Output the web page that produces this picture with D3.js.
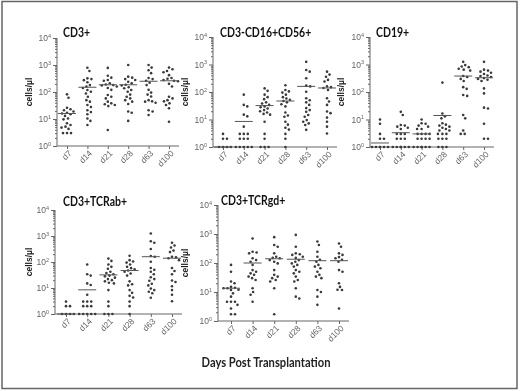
<!DOCTYPE html>
<html>
<head>
<meta charset="utf-8">
<script src="https://cdn.jsdelivr.net/npm/d3@7"></script>
<style>
body { margin: 0; background: #fff; }
svg { filter: grayscale(1); }
</style>
</head>
<body>
<script>
// Categories and axis ticks
var days = ['d7', 'd14', 'd21', 'd28', 'd63', 'd100'];
var decades = [1, 10, 100, 1000, 10000];

// CD3+ (cells/µl per patient, one list per day)
var cd3Values = [
  [82, 61, 26, 23, 21, 19, 17, 16, 15, 13, 10.5, 9.7, 7, 6, 5.2, 4.8, 4.3, 3, 3, 3],
  [795, 600, 320, 300, 275, 230, 180, 160, 140, 118, 102, 88, 67, 50, 44, 33, 28, 21, 18, 15, 10.5, 8.5, 6],
  [780, 400, 340, 280, 260, 210, 190, 180, 175, 160, 140, 120, 77, 67, 58, 44, 38, 35, 33, 30, 3.9],
  [1000, 370, 340, 300, 277, 240, 210, 185, 175, 150, 138, 118, 102, 80, 67, 58, 50, 44, 36, 19, 17, 8.5],
  [1000, 800, 640, 500, 330, 300, 260, 220, 180, 120, 95, 80, 68, 50, 45, 44, 40, 21, 19, 14],
  [800, 700, 600, 540, 420, 330, 310, 280, 260, 250, 200, 160, 67, 58, 50, 45, 38, 33, 25, 7.9]
];
var cd3Means = [16, 150, 185, 185, 250, 260];

// CD3-CD16+CD56+
var nkValues = [
  [3, 2, 2, 1, 1, 1, 1],
  [80, 34, 30, 15, 13, 5.5, 3, 3, 3, 2, 2, 2, 1, 1, 1, 1, 1],
  [135, 110, 80, 65, 55, 42, 38, 34, 30, 28, 25, 22, 20, 18, 16, 15, 8.3, 3, 2, 1, 1, 1],
  [175, 118, 105, 95, 80, 65, 58, 52, 47, 42, 36, 30, 18, 14, 12.6, 8.3, 6.5, 5, 4.3, 3, 2, 1],
  [1250, 630, 550, 316, 170, 160, 102, 59, 50, 42, 34, 26, 22, 19, 14.5, 12.6, 9.5, 8.3, 7.2, 6.3, 4.2],
  [550, 430, 360, 275, 240, 160, 150, 140, 118, 59, 45, 34, 19.5, 17, 11.7, 8.3, 5.5, 3.1]
];
var nkMeans = [1, 8.5, 32, 47, 160, 140];

// CD19+
var cd19Values = [
  [10, 7, 3, 2, 2, 1, 1, 1, 1, 1, 1],
  [19, 14.5, 6.3, 6, 5.5, 5, 4.5, 3, 3, 3, 2, 2, 2, 1, 1, 1, 1, 1, 1],
  [10, 7.3, 7, 6, 5.5, 4.5, 4.5, 3, 3, 3, 3, 2, 2, 2, 2, 1, 1, 1, 1, 1, 1],
  [220, 16.5, 13, 11, 7.3, 6.5, 6, 5.5, 5, 4.5, 4, 4, 3, 3, 3, 2, 2, 2, 1, 1, 1],
  [1250, 950, 850, 800, 700, 650, 600, 380, 350, 300, 250, 150, 130, 78, 72, 14.5, 11, 4, 3, 3],
  [1250, 650, 600, 550, 500, 450, 400, 380, 350, 320, 300, 280, 250, 135, 89, 27, 25, 7, 2, 2]
];
var cd19Means = [1.4, 3.3, 3, 14, 380, 330];

// CD3+TCRab+ (the published panel shows the same points as CD3-CD16+CD56+)
var abValues = [
  [3, 2, 2, 1, 1, 1, 1],
  [80, 34, 30, 15, 13, 5.5, 3, 3, 3, 2, 2, 2, 1, 1, 1, 1, 1],
  [135, 110, 80, 65, 55, 42, 38, 34, 30, 28, 25, 22, 20, 18, 16, 15, 8.3, 3, 2, 1, 1, 1],
  [175, 118, 105, 95, 80, 65, 58, 52, 47, 42, 36, 30, 18, 14, 12.6, 8.3, 6.5, 5, 4.3, 3, 2, 1],
  [1250, 630, 550, 316, 170, 160, 102, 59, 50, 42, 34, 26, 22, 19, 14.5, 12.6, 9.5, 8.3, 7.2, 6.3, 4.2],
  [550, 430, 360, 275, 240, 160, 150, 140, 118, 59, 45, 34, 19.5, 17, 11.7, 8.3, 5.5, 3.1]
];
var abMeans = [1, 8.5, 32, 47, 160, 140];

// CD3+TCRgd+
var gdValues = [
  [86, 50, 23, 20, 15, 14, 13.4, 13.4, 12, 11.7, 9, 6.9, 4.6, 4.6, 4.6, 3.6, 2.7, 1.7, 1.7],
  [700, 245, 230, 215, 145, 126, 111, 86, 57, 50, 44, 39, 34, 30, 26, 13.4, 10, 8, 4.6],
  [780, 420, 365, 215, 165, 150, 145, 126, 111, 97, 57, 39, 34, 30, 26, 23, 13.4, 1.7],
  [930, 365, 215, 200, 190, 165, 150, 126, 111, 97, 86, 75, 57, 50, 44, 34, 26, 23, 13.4, 6.9, 6],
  [550, 420, 245, 165, 130, 111, 86, 75, 66, 50, 39, 34, 30, 11.7, 10, 6.9, 3.6],
  [470, 365, 215, 190, 160, 145, 130, 111, 57, 50, 20, 15, 12, 11.7, 2.7]
];
var gdMeans = [13.5, 100, 140, 135, 120, 120];

var W = 520, H = 391;
var axisColor = '#666', dotColor = '#3a3a3a';

var svg = d3.select('body').append('svg')
  .attr('width', W).attr('height', H)
  .style('font-family', 'Liberation Sans, Arial, sans-serif');

svg.append('rect').attr('width', W).attr('height', H).attr('fill', '#fff');

// Outer frame
svg.append('rect')
  .attr('x', 2).attr('y', 1.5).attr('width', W - 5).attr('height', H - 4)
  .attr('fill', 'none').attr('stroke', '#666').attr('stroke-width', 1.5);

// Panel placement (y axis x, first/last category x, bottom/top of y range)
var panels = [
  {title: 'CD3+', values: cd3Values, means: cd3Means, ax: 57, xa: 67, xb: 169, yb: 146, yt: 38, lx: 32, tx: 63, ty: 37},
  {title: 'CD3-CD16+CD56+', values: nkValues, means: nkMeans, ax: 213, xa: 223, xb: 327, yb: 147, yt: 37, lx: 188, tx: 220, ty: 37},
  {title: 'CD19+', values: cd19Values, means: cd19Means, ax: 370, xa: 380, xb: 484, yb: 147, yt: 37, lx: 344, tx: 376, ty: 37},
  {title: 'CD3+TCRab+', values: abValues, means: abMeans, ax: 55, xa: 66, xb: 172, yb: 314, yt: 210, lx: 32, tx: 63, ty: 206},
  {title: 'CD3+TCRgd+', values: gdValues, means: gdMeans, ax: 218, xa: 231, xb: 339, yb: 321, yt: 205, lx: 188, tx: 221, ty: 205}
];

// Simple beeswarm: spread points sideways so they don't overlap
function swarm(vals, y, cx, gap) {
  var pts = vals.map(function(v) { return {v: v, y: y(v)}; })
    .sort(function(a, b) { return a.y - b.y; });
  var placed = [];
  pts.forEach(function(p) {
    for (var k = 0; k < 40; k++) {
      var off = k === 0 ? 0 : (k % 2 ? 1 : -1) * Math.ceil(k / 2) * 0.5;
      var ok = placed.every(function(q) {
        var dx = q.x - (cx + off), dy = q.y - p.y;
        return dx * dx + dy * dy >= gap * gap;
      });
      if (ok) { p.x = cx + off; break; }
    }
    if (p.x === undefined) p.x = cx;
    placed.push(p);
  });
  return placed;
}

panels.forEach(function(p) {
  var g = svg.append('g');

  var y = d3.scaleLog().domain([1, 10000]).range([p.yb, p.yt]);
  var x = d3.scalePoint().domain(days).range([p.xa, p.xb]);

  // Y axis with minor ticks
  var yAxis = d3.axisLeft(y).tickValues(y.ticks()).tickFormat('').tickSize(2);
  var ya = g.append('g')
    .attr('transform', 'translate(' + p.ax + ',0)')
    .call(yAxis);
  ya.select('.domain').attr('stroke', axisColor).attr('d', 'M0,' + p.yb + 'V' + p.yt);
  ya.selectAll('.tick line').attr('stroke', axisColor)
    .attr('x2', function(d) { return decades.indexOf(d) >= 0 ? -4 : -2; });
  decades.forEach(function(d, i) {
    var t = ya.append('text')
      .attr('x', -6).attr('y', y(d) + 3)
      .attr('text-anchor', 'end')
      .attr('fill', '#666').attr('font-size', 8.5);
    t.append('tspan').text('10');
    t.append('tspan').attr('font-size', 5.5).attr('dy', -3.5).text(i);
  });

  // X axis
  var xAxis = d3.axisBottom(x).tickSize(3).tickSizeOuter(0);
  var xa = g.append('g')
    .attr('transform', 'translate(0,' + p.yb + ')')
    .call(xAxis);
  xa.select('.domain').remove();
  xa.append('line')
    .attr('x1', p.ax).attr('x2', p.xb + 10)
    .attr('stroke', axisColor);
  xa.selectAll('.tick line').attr('stroke', axisColor);
  xa.selectAll('.tick text')
    .attr('fill', '#666').attr('font-size', 8.5)
    .attr('text-anchor', 'end')
    .attr('transform', 'translate(3,6) rotate(-45)')
    .attr('dy', '0.3em').attr('y', 0);

  // Points
  days.forEach(function(day, i) {
    var pts = swarm(p.values[i], y, x(day), 3.7);
    g.selectAll(null).data(pts).enter().append('circle')
      .attr('cx', function(d) { return d.x; })
      .attr('cy', function(d) { return d.y; })
      .attr('r', 1.3)
      .attr('fill', dotColor);
    // Mean line
    g.append('line')
      .attr('x1', x(day) - 9).attr('x2', x(day) + 9)
      .attr('y1', y(p.means[i])).attr('y2', y(p.means[i]))
      .attr('stroke', '#555').attr('stroke-width', 1);
  });

  // Titles (squeezed to mimic the narrow original face)
  g.append('text')
    .attr('transform', 'translate(' + p.tx + ',' + p.ty + ') scale(0.84,1)')
    .attr('font-family', 'Lato, sans-serif')
    .attr('font-weight', 'bold').attr('font-size', 12.5)
    .attr('fill', '#111')
    .text(p.title);

  g.append('text')
    .attr('transform', 'translate(' + p.lx + ',' + ((p.yb + p.yt) / 2) + ') rotate(-90)')
    .attr('text-anchor', 'middle')
    .attr('font-weight', 'bold').attr('font-size', 8.5)
    .attr('fill', '#222')
    .text('cells/µl');
});

svg.append('text')
  .attr('transform', 'translate(266,367) scale(0.86,1)')
  .attr('text-anchor', 'middle')
  .attr('font-family', 'Lato, sans-serif')
  .attr('font-weight', 'bold').attr('font-size', 13)
  .attr('fill', '#222')
  .text('Days Post Transplantation');
</script>
</body>
</html>
